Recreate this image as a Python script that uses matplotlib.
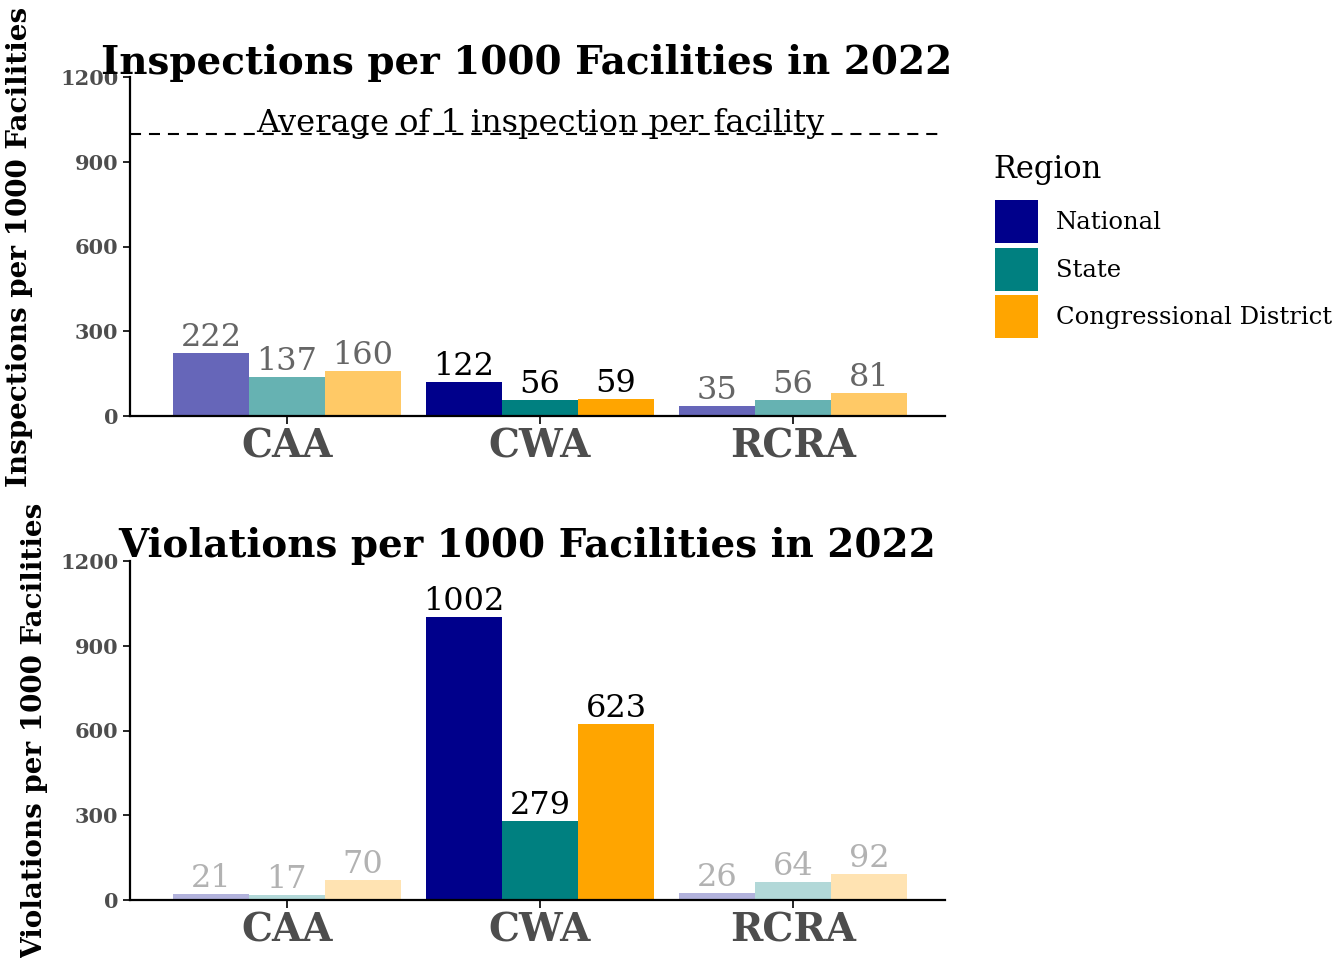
import matplotlib
matplotlib.use("Agg")
import matplotlib.pyplot as plt
from matplotlib.patches import Patch
import numpy as np

plt.rcParams['font.family'] = ['DejaVu Serif']

programs = ['CAA', 'CWA', 'RCRA']
regions = ['National', 'State', 'Congressional District']
colors = ['#00008B', '#008080', '#FFA500']

inspections = {
    'National': [222, 122, 35],
    'State': [137, 56, 56],
    'Congressional District': [160, 59, 81],
}
violations = {
    'National': [21, 1002, 26],
    'State': [17, 279, 64],
    'Congressional District': [70, 623, 92],
}
highlight = 'CWA'
yticks = [0, 300, 600, 900, 1200]

fig = plt.figure(figsize=(13.43, 9.58), dpi=100)
W, H = 1343, 958


def panel(rect, data, title, ylabel, fade, title_y, ylab_x):
    ax = fig.add_axes(rect)
    x = np.arange(len(programs))
    w = 0.3
    for i, reg in enumerate(regions):
        for j, prog in enumerate(programs):
            v = data[reg][j]
            a = 1.0 if prog == highlight else fade
            xx = x[j] + (i - 1) * w
            ax.bar(xx, v, width=w, color=colors[i], alpha=a, linewidth=0)
            ax.text(xx, v, str(v), ha='center', va='bottom', fontsize=23,
                    color='black', alpha=a)
    ax.set_xlim(-0.62, 2.6)
    ax.set_ylim(0, 1200)
    ax.set_yticks(yticks)
    ax.set_xticks(x)
    ax.set_xticklabels(programs, fontsize=28, fontweight='bold', color='#4d4d4d')
    ax.tick_params(axis='y', labelsize=15, labelcolor='#4d4d4d', length=5, width=1.2)
    ax.tick_params(axis='x', length=6, width=1.2, pad=2)
    for t in ax.get_yticklabels():
        t.set_fontweight('bold')
    for s in ['top', 'right']:
        ax.spines[s].set_visible(False)
    for s in ['left', 'bottom']:
        ax.spines[s].set_linewidth(1.6)
    ax.set_ylabel(ylabel, fontsize=20, fontweight='bold')
    ax.yaxis.set_label_coords(ylab_x, 0.5)
    fig.text(527 / W, 1 - title_y / H, title, ha='center', va='baseline',
             fontsize=28, fontweight='bold')
    return ax


ax1 = panel([130 / W, 1 - 416 / H, 815 / W, 339 / H], inspections,
            'Inspections per 1000 Facilities in 2022',
            'Inspections per 1000 Facilities', 0.6, 74, -0.119)
ax1.axhline(1000, color='black', linestyle=(0, (5.3, 3.8)), linewidth=1.5)
ax1.text(1, 1005, 'Average of 1 inspection per facility', ha='center',
         va='baseline', fontsize=23)

ax2 = panel([130 / W, 1 - 900 / H, 815 / W, 339 / H], violations,
            'Violations per 1000 Facilities in 2022',
            'Violations per 1000 Facilities', 0.3, 557, -0.101)

fig.text(993 / W, 1 - 178 / H, 'Region', ha='left', va='baseline', fontsize=22)
handles = [Patch(facecolor=c, edgecolor='none') for c in colors]
leg = fig.legend(handles, regions, loc='upper left',
                 bbox_to_anchor=(995 / W, 1 - 200 / H), frameon=False,
                 fontsize=17.5, handlelength=1.77, handleheight=2.35,
                 labelspacing=0.185, handletextpad=0.75, borderaxespad=0,
                 borderpad=0)

fig.savefig('out.png', dpi=100)
